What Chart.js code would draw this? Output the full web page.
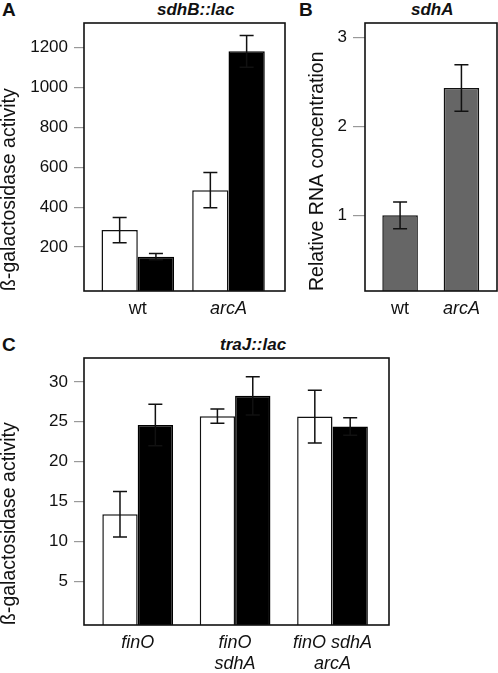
<!DOCTYPE html>
<html>
<head>
<meta charset="utf-8">
<script src="https://cdn.jsdelivr.net/npm/chart.js@4.4.1/dist/chart.umd.min.js"></script>
<style>
  body { margin: 0; background: #fff; }
  #page { position: relative; width: 498px; height: 673px; font-family: "Liberation Sans", Arial, sans-serif; color: #111; }
  canvas { position: absolute; }
  .panel { position: absolute; font-weight: bold; font-size: 19px; line-height: 1; }
  .title { position: absolute; font-weight: bold; font-style: italic; font-size: 17px; line-height: 1; }
</style>
</head>
<body>
<div id="page">
  <div class="panel" style="left:2px;top:0px">A</div>
  <div class="panel" style="left:299px;top:0px">B</div>
  <div class="panel" style="left:2px;top:335px">C</div>
  <div class="title" style="left:157px;top:1px">sdhB::lac</div>
  <div class="title" style="left:411px;top:1px">sdhA</div>
  <div class="title" style="left:220px;top:336px">traJ::lac</div>
  <canvas id="chartA" width="290" height="325" style="left:0;top:0"></canvas>
  <canvas id="chartB" width="208" height="325" style="left:290px;top:0"></canvas>
  <canvas id="chartC" width="400" height="343" style="left:0;top:330px"></canvas>
</div>
<script>
// Panel A: sdhB::lac
const aStrains = ['wt', 'arcA'];
const aWhite = [285, 485];
const aWhiteErr = [63, 88];
const aBlack = [152, 1180];
const aBlackErr = [16, 80];

// Panel B: sdhA RNA
const bStrains = ['wt', 'arcA'];
const bValues = [1.0, 2.43];
const bErr = [0.15, 0.26];

// Panel C: traJ::lac
const cStrains = [['finO'], ['finO', 'sdhA'], ['finO sdhA', 'arcA']];
const cWhite = [13.4, 25.7, 25.65];
const cWhiteErr = [2.85, 0.9, 3.3];
const cBlack = [24.6, 28.25, 24.4];
const cBlackErr = [2.6, 2.4, 1.1];

const FONT = '"Liberation Sans", Arial, sans-serif';
const INK = '#111';

// draw the frame round the plot area
const frame = {
  id: 'frame',
  afterDatasetsDraw(chart) {
    const { ctx, chartArea: a } = chart;
    ctx.save();
    ctx.strokeStyle = INK;
    ctx.lineWidth = 1.6;
    ctx.strokeRect(a.left, a.top, a.right - a.left, a.bottom - a.top);
    ctx.restore();
  }
};

// error bars from dataset.errors
const errorBars = {
  id: 'errorBars',
  afterDraw(chart) {
    const ctx = chart.ctx;
    const y = chart.scales.y;
    ctx.save();
    ctx.strokeStyle = INK;
    ctx.lineWidth = 1.5;
    chart.data.datasets.forEach((ds, di) => {
      if (!ds.errors) return;
      chart.getDatasetMeta(di).data.forEach((bar, i) => {
        const v = ds.data[i].y, e = ds.errors[i];
        const top = y.getPixelForValue(v + e);
        const bot = y.getPixelForValue(v - e);
        const cap = 7;
        ctx.beginPath();
        ctx.moveTo(bar.x, top); ctx.lineTo(bar.x, bot);
        ctx.moveTo(bar.x - cap, top); ctx.lineTo(bar.x + cap, top);
        ctx.moveTo(bar.x - cap, bot); ctx.lineTo(bar.x + cap, bot);
        ctx.stroke();
      });
    });
    ctx.restore();
  }
};

function points(values) {
  return values.map((v, i) => ({ x: i + 1, y: v }));
}

function makeChart(id, cfg) {
  return new Chart(document.getElementById(id), {
    type: 'bar',
    data: { datasets: cfg.datasets },
    options: {
      responsive: false,
      animation: false,
      layout: { padding: cfg.padding },
      plugins: { legend: { display: false }, tooltip: { enabled: false } },
      scales: {
        x: {
          type: 'linear',
          offset: false,
          min: cfg.xMin,
          max: cfg.xMax,
          grid: { display: false },
          border: { display: false },
          afterFit: s => { s.height = cfg.xHeight; },
          ticks: {
            stepSize: 1,
            includeBounds: false,
            padding: cfg.xPad,
            color: INK,
            font: c => ({ family: FONT, size: 18, lineHeight: 1.15,
              style: cfg.italic(c.index) ? 'italic' : 'normal' }),
            callback: v => cfg.labels[v - 1]
          }
        },
        y: {
          min: cfg.yMin,
          max: cfg.yMax,
          border: { display: false },
          grid: { drawOnChartArea: false, color: '#999', lineWidth: 1.2, tickLength: cfg.tickLen },
          afterBuildTicks: s => { s.ticks = s.ticks.filter(t => t.value > 0); },
          afterFit: s => { s.width = cfg.yWidth; },
          ticks: {
            stepSize: cfg.step,
            includeBounds: false,
            padding: 6,
            color: INK,
            font: { family: FONT, size: 17 },
            callback: v => String(v)
          },
          title: {
            display: true,
            text: cfg.yTitle,
            align: 'start',
            color: INK,
            font: { family: FONT, size: 19.5, lineHeight: 1 },
            padding: { top: cfg.titlePad, bottom: 0 }
          }
        }
      }
    },
    plugins: [frame, errorBars]
  });
}

const whiteBar = { backgroundColor: '#fff', borderColor: INK, borderWidth: 1.5, barPercentage: 1 };
const blackBar = { backgroundColor: '#000', borderColor: '#000', borderWidth: 1.5, barPercentage: 1 };

makeChart('chartA', {
  datasets: [
    { ...whiteBar, data: points(aWhite), errors: aWhiteErr, base: -20, categoryPercentage: 0.8 },
    { ...blackBar, data: points(aBlack), errors: aBlackErr, base: -20, categoryPercentage: 0.8 }
  ],
  padding: { top: 23, right: 5, left: 0, bottom: 0 },
  xMin: 0.407, xMax: 2.623, xHeight: 34, xPad: 0,
  yMin: -20, yMax: 1322, step: 200, yWidth: 84, tickLen: 10, titlePad: 0,
  labels: aStrains,
  italic: i => aStrains[i] !== 'wt',
  yTitle: 'ß-galactosidase activity'
});

makeChart('chartB', {
  datasets: [
    { backgroundColor: '#666', borderColor: INK, borderWidth: 1.5, barPercentage: 1,
      categoryPercentage: 0.58, base: 0.15, data: points(bValues), errors: bErr }
  ],
  padding: { top: 23, right: 1, left: 0, bottom: 0 },
  xMin: 0.428, xMax: 2.58, xHeight: 34, xPad: 0,
  yMin: 0.15, yMax: 3.16, step: 1, yWidth: 75, tickLen: 12, titlePad: 18,
  labels: bStrains,
  italic: i => bStrains[i] !== 'wt',
  yTitle: 'Relative RNA concentration'
});

makeChart('chartC', {
  datasets: [
    { ...whiteBar, data: points(cWhite), errors: cWhiteErr, base: -0.5, categoryPercentage: 0.726 },
    { ...blackBar, data: points(cBlack), errors: cBlackErr, base: -0.5, categoryPercentage: 0.726 }
  ],
  padding: { top: 28, right: 11, left: 0, bottom: 0 },
  xMin: 0.449, xMax: 3.58, xHeight: 48, xPad: 0,
  yMin: -0.5, yMax: 33, step: 5, yWidth: 84, tickLen: 10, titlePad: 0,
  labels: cStrains,
  italic: () => true,
  yTitle: 'ß-galactosidase activity'
});
</script>
</body>
</html>
